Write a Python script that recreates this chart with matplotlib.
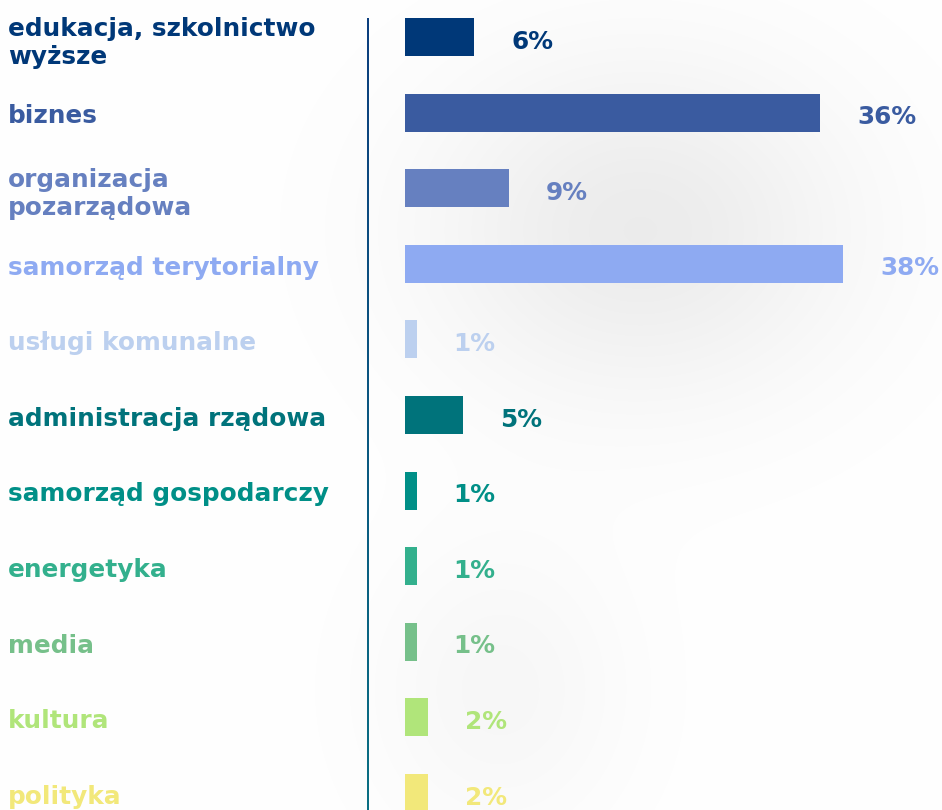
import numpy as np
import matplotlib
matplotlib.use("Agg")
import matplotlib.pyplot as plt
import matplotlib.transforms as mtransforms

categories = ["edukacja, szkolnictwo\nwyższe", "biznes", "organizacja\npozarządowa",
              "samorząd terytorialny", "usługi komunalne", "administracja rządowa",
              "samorząd gospodarczy", "energetyka", "media", "kultura", "polityka"]
values = [6, 36, 9, 38, 1, 5, 1, 1, 1, 2, 2]
labels = ["6%", "36%", "9%", "38%", "1%", "5%", "1%", "1%", "1%", "2%", "2%"]
colors = ["#003878", "#3a5ba0", "#6680c0", "#8eaaf2", "#bcd0ef", "#00737b",
          "#008f87", "#33b08d", "#76c08a", "#b0e57a", "#f2e87a"]

W, H = 942, 810
fig = plt.figure(figsize=(W / 100, H / 100), dpi=100)

# soft background shadow + gradient divider line (pixel coordinates)
bg = fig.add_axes([0, 0, 1, 1], zorder=0)
yy, xx = np.mgrid[0:H, 0:W]
shade = 0.075 * np.exp(-(((xx - 640) / 210.0) ** 2 + ((yy - 230) / 170.0) ** 2))
shade += 0.03 * np.exp(-(((xx - 500) / 130.0) ** 2 + ((yy - 690) / 150.0) ** 2))
img = np.dstack([1 - shade] * 3)
bg.imshow(img, extent=[0, W, H, 0], aspect="auto", interpolation="bilinear")
c_top = np.array(matplotlib.colors.to_rgb("#0d3f7e"))
c_bot = np.array(matplotlib.colors.to_rgb("#0a6f83"))
t = np.linspace(0, 1, 200)[:, None, None]
line_img = c_top[None, None, :] * (1 - t) + c_bot[None, None, :] * t
bg.imshow(line_img, extent=[366.6, 368.6, 810, 18], aspect="auto", interpolation="bilinear")
bg.set_xlim(0, W)
bg.set_ylim(H, 0)
bg.axis("off")

x0 = 405
pxper = 11.53
step = 75.6
c0 = 37
ax = fig.add_axes([x0 / W, 0, 1 - x0 / W, 1], zorder=1)
ax.patch.set_alpha(0)
ax.set_xlim(0, (W - x0) / pxper)
ax.set_ylim((H - c0) / step, -c0 / step)
ax.axis("off")

FS = 17.8
y = np.arange(len(values))
ax.barh(y, values, height=38 / step, color=colors, zorder=2)
for yi, v, lab, col in zip(y, values, labels, colors):
    ax.text(v + 37 / pxper, yi + 0.06, lab, color=col, fontsize=FS, fontweight="bold",
            family="DejaVu Sans", va="center", ha="left")

tr = mtransforms.blended_transform_factory(fig.transFigure, ax.transData)
for yi, cat, col in zip(y, categories, colors):
    off = 0.08 if "\n" in cat else 0.05
    ax.text(8 / W, yi + off, cat, transform=tr, color=col, fontsize=FS, fontweight="bold",
            family="DejaVu Sans", va="center", ha="left", linespacing=1.2)

fig.savefig("out.png", dpi=100)
